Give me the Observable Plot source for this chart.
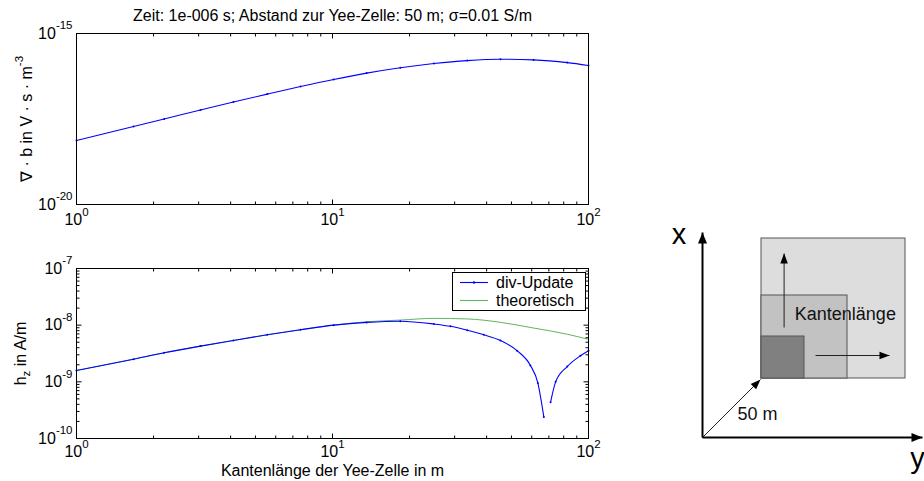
<!DOCTYPE html>
<html><head><meta charset="utf-8">
<script src="https://cdn.jsdelivr.net/npm/d3@7"></script>
<script src="https://cdn.jsdelivr.net/npm/@observablehq/plot@0.6"></script>
<style>
body{margin:0;background:#fff;}
#wrap{position:relative;width:924px;height:481px;background:#fff;font-family:"Liberation Sans",Arial,Helvetica,sans-serif;overflow:hidden;}
#wrap>div{position:absolute;}
#legend{border:1px solid #000;background:#fff;box-sizing:border-box;}
</style></head><body>
<div id="wrap">
  <div id="top" style="left:0;top:0"></div>
  <div id="bottom" style="left:0;top:240px"></div>
  <div id="diagram" style="left:640px;top:200px"></div>
  <div id="legend" style="left:452px;top:272px;width:134px;height:39px"></div>
</div>
<script>
// ---------- data ----------
const titleText = "Zeit: 1e-006 s; Abstand zur Yee-Zelle: 50 m; σ=0.01 S/m";
const yLabelTop = "∇ · b in V · s · m^{-3}";
const yLabelBottom = "h_{z} in A/m";
const xLabel = "Kantenlänge der Yee-Zelle in m";
const legendLabels = ["div-Update", "theoretisch"];

// top panel: divergence of b
const sizeDivB = [1, 1.67, 2.2, 3.05, 4.1, 5.56, 7.5, 10.1, 13.6, 18.4, 24.9, 33.6, 45.3, 61, 82.6, 100];
const divB = [7.41e-19, 1.92e-18, 3.18e-18, 5.82e-18, 9.93e-18, 1.69e-17, 2.81e-17, 4.52e-17, 6.95e-17, 9.98e-17, 1.327e-16, 1.614e-16, 1.766e-16, 1.69e-16, 1.41e-16, 1.164e-16];

// bottom panel: h_z (div-Update), NaN = not plotted
const sizeHz = [1, 1.67, 2.2, 3.05, 4.1, 5.56, 7.5, 10.1, 13.6, 18.4, 24.9, 28.9, 33.6, 39, 45.3, 52.6, 59.3, 63.4, 66.9, 69, 71.1, 74.4, 82.6, 93, 100];
const hzDiv = [1.585e-9, 2.51e-9, 3.25e-9, 4.27e-9, 5.37e-9, 6.76e-9, 8.32e-9, 1.0e-8, 1.12e-8, 1.175e-8, 1.05e-8, 9.55e-9, 8.13e-9, 6.76e-9, 5.37e-9, 3.55e-9, 1.95e-9, 9.55e-10, 2.40e-10, NaN, 4.37e-10, 1.0e-9, 1.86e-9, 2.88e-9, 3.55e-9];

// bottom panel: h_z theoretical
const sizeTheo = [1, 1.67, 2.2, 3.05, 4.1, 5.56, 7.5, 10.1, 13.6, 18.4, 24.9, 33.6, 45.3, 61, 82.6, 100];
const hzTheo = [1.585e-9, 2.51e-9, 3.25e-9, 4.27e-9, 5.37e-9, 6.76e-9, 8.32e-9, 1.0e-8, 1.148e-8, 1.23e-8, 1.318e-8, 1.288e-8, 1.122e-8, 8.91e-9, 6.92e-9, 5.62e-9];

// ticks
const xTicks = [1, 10, 100];
const xMinorTicks = [2, 3, 4, 5, 6, 7, 8, 9, 20, 30, 40, 50, 60, 70, 80, 90];
const yTopTicks = [1e-20, 1e-15];
const yBottomTicks = [1e-10, 1e-9, 1e-8, 1e-7];
const yBottomMinorTicks = [2e-10, 3e-10, 4e-10, 5e-10, 6e-10, 7e-10, 8e-10, 9e-10,
  2e-9, 3e-9, 4e-9, 5e-9, 6e-9, 7e-9, 8e-9, 9e-9,
  2e-8, 3e-8, 4e-8, 5e-8, 6e-8, 7e-8, 8e-8, 9e-8];

// schematic (right side)
const diagramCorner = 59;
const squareW = [144, 86, 43];
const squareH = [140, 83, 42];
const axisArrows = [{x1: 0, y1: 0, x2: 0, y2: 205}, {x1: 0, y1: 0, x2: 220, y2: 0}];
const innerArrows = [{x1: 0, y1: 0, x2: 58, y2: 58}, {x1: 81.6, y1: 110, x2: 81.6, y2: 184}, {x1: 113, y1: 82, x2: 187, y2: 82}];
const axisNames = [{x: -23.4, y: 203, t: "x"}, {x: 215, y: -21, t: "y"}];
const schematicTexts = [{x: 92.3, y: 122.8, t: "Kantenlänge"}, {x: 35, y: 22.8, t: "50 m"}];

// ---------- helpers ----------
const FONT = '"Liberation Sans", Arial, Helvetica, sans-serif';
const fmtPow = d => `10^{${Math.round(Math.log10(d))}}`;
const tickShape = {draw(ctx, l) { ctx.moveTo(0, 0); ctx.lineTo(0, -l); }};
const headShape = {draw(ctx, l, r) { ctx.moveTo(0, 0); ctx.lineTo(-r, l); ctx.lineTo(r, l); ctx.closePath(); }};
const tk = {anchor: "start", shape: tickShape, stroke: "#000", strokeWidth: 1, strokeLinecap: "butt"};
function ticksX(vals, len) {
  return [
    Plot.vector(vals, {...tk, x: d => d, frameAnchor: "bottom", length: len, rotate: 0}),
    Plot.vector(vals, {...tk, x: d => d, frameAnchor: "top", length: len, rotate: 180})
  ];
}
function ticksY(vals, len) {
  return [
    Plot.vector(vals, {...tk, y: d => d, frameAnchor: "left", length: len, rotate: 90}),
    Plot.vector(vals, {...tk, y: d => d, frameAnchor: "right", length: len, rotate: -90})
  ];
}
function richify(root) {
  const ns = "http://www.w3.org/2000/svg";
  root.querySelectorAll("text").forEach(t => {
    const s = t.textContent;
    if (!/[\^_]\{/.test(s) || t.querySelector("tspan")) return;
    const base = parseFloat(getComputedStyle(t).fontSize) || 16;
    while (t.firstChild) t.removeChild(t.firstChild);
    const re = /([\^_])\{([^}]*)\}/g;
    let last = 0, m, back = 0;
    const add = (txt, dy, small) => {
      const ts = document.createElementNS(ns, "tspan");
      ts.textContent = txt;
      if (dy) ts.setAttribute("dy", dy);
      if (small) ts.setAttribute("font-size", (base * 0.72).toFixed(1));
      t.appendChild(ts);
    };
    while ((m = re.exec(s))) {
      if (m.index > last) { add(s.slice(last, m.index), back); back = 0; }
      const shift = m[1] === "^" ? -0.58 * base : 0.28 * base;
      add(m[2], shift + back, true);
      back = -shift;
      last = re.lastIndex;
    }
    if (last < s.length) add(s.slice(last), back);
  });
}
const styleBase = {fontFamily: FONT, fontSize: "16px", background: "transparent", color: "#000", overflow: "visible"};

// ---------- top panel ----------
const topData = sizeDivB.map((s, i) => ({size: s, value: divB[i]}));
const topPlot = Plot.plot({
  width: 600, height: 240, marginLeft: 76, marginRight: 12, marginTop: 33, marginBottom: 36,
  style: styleBase,
  x: {type: "log", domain: [1, 100]},
  y: {type: "log", domain: [1e-20, 1e-15]},
  marks: [
    Plot.line(topData, {x: "size", y: "value", stroke: "#0000ff", strokeWidth: 1.1, curve: "monotone-x"}),
    Plot.dot(topData, {x: "size", y: "value", r: 1, fill: "#0000ff"}),
    ...ticksX(xTicks, 5), ...ticksX(xMinorTicks, 3),
    Plot.frame({stroke: "#000", strokeWidth: 1}),
    Plot.axisX({ticks: xTicks, anchor: "bottom", tickSize: 0, tickPadding: 9, tickFormat: fmtPow, label: null}),
    Plot.axisY({ticks: yTopTicks, anchor: "left", tickSize: 0, tickPadding: 4, tickFormat: fmtPow, label: null}),
    Plot.text([titleText], {text: d => d, frameAnchor: "top", lineAnchor: "middle", textAnchor: "middle", dy: -17.6, fontSize: 16}),
    Plot.text([yLabelTop], {text: d => d, frameAnchor: "left", lineAnchor: "middle", textAnchor: "middle", rotate: -90, dx: -49.4, fontSize: 16})
  ]
});
document.getElementById("top").appendChild(topPlot);
richify(topPlot);

// ---------- bottom panel ----------
const hzData = sizeHz.map((s, i) => ({size: s, value: hzDiv[i]}));
const theoData = sizeTheo.map((s, i) => ({size: s, value: hzTheo[i]}));
const bottomPlot = Plot.plot({
  width: 600, height: 241, marginLeft: 76, marginRight: 12, marginTop: 28, marginBottom: 43,
  style: styleBase,
  x: {type: "log", domain: [1, 100]},
  y: {type: "log", domain: [1e-10, 1e-7]},
  marks: [
    Plot.line(theoData, {x: "size", y: "value", stroke: "#5fb55f", strokeWidth: 1, curve: "monotone-x"}),
    Plot.line(hzData, {x: "size", y: "value", stroke: "#0000ff", strokeWidth: 1.1, curve: "monotone-x"}),
    Plot.dot(hzData, {x: "size", y: "value", r: 1, fill: "#0000ff"}),
    ...ticksX(xTicks, 5), ...ticksX(xMinorTicks, 3),
    ...ticksY(yBottomTicks, 5), ...ticksY(yBottomMinorTicks, 3),
    Plot.frame({stroke: "#000", strokeWidth: 1}),
    Plot.axisX({ticks: xTicks, anchor: "bottom", tickSize: 0, tickPadding: 7, tickFormat: fmtPow, label: null}),
    Plot.axisY({ticks: yBottomTicks, anchor: "left", tickSize: 0, tickPadding: 4, tickFormat: fmtPow, label: null}),
    Plot.text([xLabel], {text: d => d, frameAnchor: "bottom", lineAnchor: "middle", textAnchor: "middle", dy: 31.9, fontSize: 16}),
    Plot.text([yLabelBottom], {text: d => d, frameAnchor: "left", lineAnchor: "middle", textAnchor: "middle", rotate: -90, dx: -56, fontSize: 16})
  ]
});
document.getElementById("bottom").appendChild(bottomPlot);
richify(bottomPlot);

// ---------- legend ----------
const lg = d3.select("#legend").append("svg").attr("width", 132).attr("height", 37)
  .style("font-family", FONT).style("font-size", "16px").style("display", "block");
const legendColors = ["#0000ff", "#5fb55f"];
legendLabels.forEach((lab, i) => {
  const cy = i === 0 ? 9.5 : 27.5;
  lg.append("line").attr("x1", 7).attr("x2", 35).attr("y1", cy).attr("y2", cy)
    .attr("stroke", legendColors[i]).attr("stroke-width", 1.1);
  if (i === 0) lg.append("circle").attr("cx", 21).attr("cy", cy).attr("r", 1.2).attr("fill", legendColors[i]);
  lg.append("text").attr("x", 43).attr("y", cy).attr("dy", "0.36em").text(lab);
});

// ---------- schematic ----------
const squares = squareW.map((w, i) => ({w, h: squareH[i], i}));
const squareFills = ["#dddddd", "#c2c2c2", "#808080"];
const angle = d => Math.atan2(d.x2 - d.x1, d.y2 - d.y1) * 180 / Math.PI;
const diagram = Plot.plot({
  width: 284, height: 281, margin: 0,
  style: {...styleBase, fontSize: "18px"},
  x: {domain: [-62, 222], axis: null},
  y: {domain: [-44, 237], axis: null},
  color: {type: "identity"},
  marks: [
    Plot.rect(squares, {x1: diagramCorner, x2: d => diagramCorner + d.w, y1: diagramCorner, y2: d => diagramCorner + d.h,
      fill: d => squareFills[d.i], stroke: "#555", strokeWidth: 1}),
    Plot.link(innerArrows, {x1: "x1", y1: "y1", x2: "x2", y2: "y2", stroke: "#222", strokeWidth: 1}),
    Plot.vector(innerArrows, {x: "x2", y: "y2", rotate: angle, length: 10, r: 3.8, anchor: "start", shape: headShape, fill: "#000", stroke: "none"}),
    Plot.link(axisArrows, {x1: "x1", y1: "y1", x2: "x2", y2: "y2", stroke: "#000", strokeWidth: 2}),
    Plot.vector(axisArrows, {x: "x2", y: "y2", rotate: angle, length: 11, r: 4.5, anchor: "start", shape: headShape, fill: "#000", stroke: "none"}),
    Plot.text(schematicTexts, {x: "x", y: "y", text: "t", textAnchor: "start", lineAnchor: "middle", fontSize: 18, fill: "#111"}),
    Plot.text(axisNames, {x: "x", y: "y", text: "t", textAnchor: "middle", lineAnchor: "middle", fontSize: 29, fill: "#000"})
  ]
});
document.getElementById("diagram").appendChild(diagram);
</script>
</body></html>
